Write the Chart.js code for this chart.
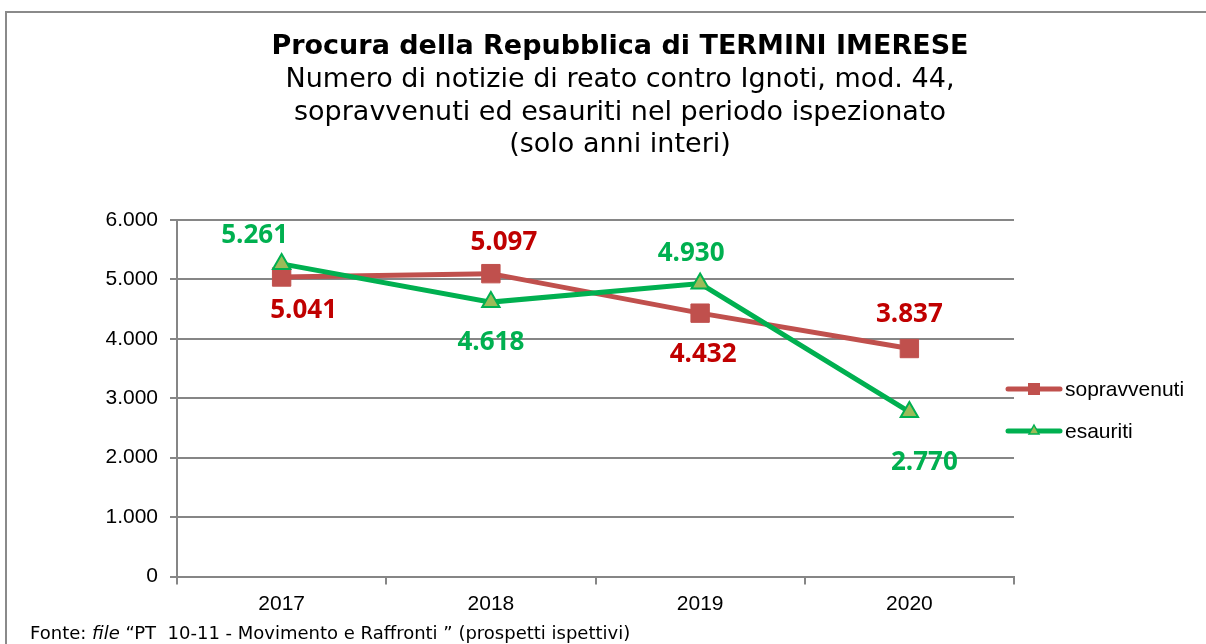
<!DOCTYPE html>
<html><head><meta charset="utf-8">
<script src="https://cdn.jsdelivr.net/npm/chart.js@4.4.1/dist/chart.umd.min.js"></script>
<style>html,body{margin:0;padding:0;background:#fff;overflow:hidden}#wrap{position:relative;width:1206px;height:644px}</style>
</head><body><div id="wrap"><canvas id="c" width="1206" height="644"></canvas></div>
<script>
const categories = ['2017', '2018', '2019', '2020'];
const sopravvenuti = [5041, 5097, 4432, 3837];
const esauriti = [5261, 4618, 4930, 2770];
const yTickValues = [0, 1000, 2000, 3000, 4000, 5000, 6000];
const seriesNames = ['sopravvenuti', 'esauriti'];
const titleMain = 'Procura della Repubblica di TERMINI IMERESE';
const titleSub = ['Numero di notizie di reato contro Ignoti, mod. 44,', 'sopravvenuti ed esauriti nel periodo ispezionato', '(solo anni interi)'];
const footerParts = [['Fonte: ', false], ['file', true], [' \u201CPT  10-11 - Movimento e Raffronti \u201D (prospetti ispettivi)', false]];

const fmt = v => String(v).replace(/\B(?=(\d{3})+(?!\d))/g, '.');

const COL_RED = '#C0504D', COL_RED_TXT = '#C00000';
const COL_GREEN = '#00B050', COL_GREEN_FILL = '#9BBB59';
const AXIS = '#868686';

const decorPlugin = {
  id: 'decor',
  beforeDraw(chart) {
    const ctx = chart.ctx;
    ctx.save();
    ctx.fillStyle = '#fff';
    ctx.fillRect(0, 0, chart.width, chart.height);
    // frame
    ctx.strokeStyle = '#8a8a8a';
    ctx.lineWidth = 2;
    ctx.beginPath();
    ctx.moveTo(6, chart.height + 2);
    ctx.lineTo(6, 12);
    ctx.lineTo(chart.width + 2, 12);
    ctx.stroke();
    // titles
    ctx.fillStyle = '#000';
    ctx.textAlign = 'center';
    ctx.textBaseline = 'middle';
    ctx.font = 'bold 27px "DejaVu Sans"';
    ctx.fillText(titleMain, 620, 47);
    ctx.font = '27px "DejaVu Sans"';
    titleSub.forEach((t, i) => ctx.fillText(t, 620, 80 + i * 32.5));
    // footer
    ctx.textAlign = 'left';
    let x = 30;
    footerParts.forEach(([t, it]) => {
      ctx.font = (it ? 'italic ' : '') + '18px "DejaVu Sans"';
      ctx.fillText(t, x, 634);
      x += ctx.measureText(t).width;
    });
    ctx.restore();
  },
  afterDraw(chart) {
    const ctx = chart.ctx;
    ctx.save();
    // legend
    const items = [
      { name: seriesNames[0], y: 389, color: COL_RED, marker: 'rect' },
      { name: seriesNames[1], y: 431, color: COL_GREEN, marker: 'tri' }
    ];
    items.forEach(it => {
      ctx.strokeStyle = it.color;
      ctx.lineWidth = 5;
      ctx.lineCap = 'round';
      ctx.beginPath();
      ctx.moveTo(1008, it.y);
      ctx.lineTo(1060, it.y);
      ctx.stroke();
      if (it.marker === 'rect') {
        ctx.fillStyle = COL_RED;
        ctx.fillRect(1028, it.y - 6, 12, 12);
      } else {
        ctx.fillStyle = COL_GREEN_FILL;
        ctx.strokeStyle = COL_GREEN;
        ctx.lineWidth = 1.5;
        ctx.beginPath();
        ctx.moveTo(1034, it.y - 6);
        ctx.lineTo(1039, it.y + 3);
        ctx.lineTo(1029, it.y + 3);
        ctx.closePath();
        ctx.fill();
        ctx.stroke();
      }
      ctx.fillStyle = '#000';
      ctx.font = '21px "Liberation Sans"';
      ctx.textAlign = 'left';
      ctx.textBaseline = 'middle';
      ctx.fillText(it.name, 1065, it.y + 1);
    });
    ctx.restore();
  },
  afterDatasetsDraw(chart, args, opts) {
    const ctx = chart.ctx;
    ctx.save();
    ctx.font = 'bold 26px "Open Sans"';
    ctx.textAlign = 'center';
    ctx.textBaseline = 'middle';
    chart.data.datasets.forEach((ds, di) => {
      const meta = chart.getDatasetMeta(di);
      const offs = opts.offsets[di];
      ctx.fillStyle = opts.colors[di];
      meta.data.forEach((pt, i) => {
        ctx.fillText(fmt(ds.data[i]), pt.x + offs[i][0], pt.y + offs[i][1] + 3);
      });
    });
    ctx.restore();
  }
};

new Chart(document.getElementById('c'), {
  type: 'line',
  data: {
    labels: categories,
    datasets: [
      {
        label: seriesNames[0], data: sopravvenuti, order: 1,
        borderColor: COL_RED, borderWidth: 5, tension: 0,
        pointStyle: 'rect', pointRadius: 13, pointBorderWidth: 1,
        pointBackgroundColor: COL_RED, pointBorderColor: COL_RED
      },
      {
        label: seriesNames[1], data: esauriti, order: 0,
        borderColor: COL_GREEN, borderWidth: 5, tension: 0,
        pointStyle: 'triangle', pointRadius: 10, pointBorderWidth: 2,
        pointBackgroundColor: COL_GREEN_FILL, pointBorderColor: COL_GREEN
      }
    ]
  },
  options: {
    responsive: false,
    animation: false,
    layout: { padding: { top: 220, right: 192, bottom: 0, left: 0 } },
    plugins: {
      legend: { display: false },
      title: { display: false },
      tooltip: { enabled: false },
      decor: {
        colors: [COL_RED_TXT, COL_GREEN],
        offsets: [
          [[22, 31], [13, -34], [3, 38], [0, -37]],
          [[-27, -31], [0, 37], [-9, -33], [15, 48]]
        ]
      }
    },
    scales: {
      x: {
        offset: true,
        grid: { display: true, drawOnChartArea: false, drawTicks: true, tickLength: 8, offset: true, color: AXIS, lineWidth: 2 },
        border: { display: true, color: AXIS, width: 2 },
        ticks: { color: '#000', font: { family: 'Liberation Sans', size: 21 }, padding: 7 },
        afterFit(s) { s.height = 67.5; }
      },
      y: {
        min: 0, max: 6000,
        afterBuildTicks(s) { s.ticks = yTickValues.map(v => ({ value: v })); },
        grid: { color: AXIS, lineWidth: 2, tickLength: 7, drawTicks: true },
        border: { display: true, color: AXIS, width: 2 },
        ticks: { color: '#000', font: { family: 'Liberation Sans', size: 21 }, padding: 12, callback: v => fmt(v) },
        afterFit(s) { s.width = 177; }
      }
    }
  },
  plugins: [decorPlugin]
});
</script>
</body></html>
